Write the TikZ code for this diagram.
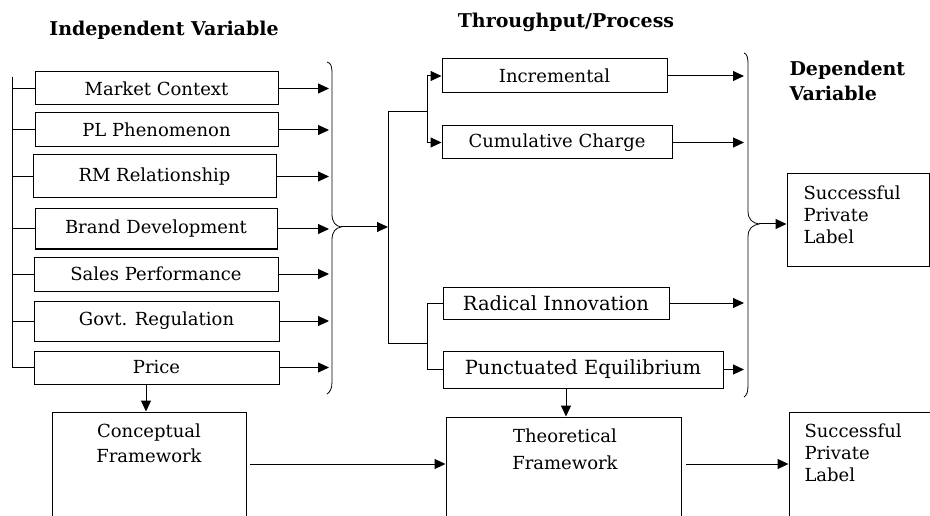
\documentclass[tikz,border=0pt]{standalone}
\usepackage{fontspec}
\setmainfont{DejaVu Serif}
\usetikzlibrary{arrows.meta}
\begin{document}
\begin{tikzpicture}[x=1pt,y=-1pt,
  line width=1pt,
  txt/.style={font=\fontsize{18}{22}\selectfont, inner sep=0pt},
  box/.style={draw, txt},
  big/.style={font=\fontsize{19.5}{22}\selectfont},
  hd/.style={font=\fontsize{19}{25}\selectfont\bfseries, inner sep=0pt},
  arr/.style={-{Triangle[length=11pt,width=10pt]}},
  brace/.style={line width=0.8pt}
]
\clip (0,0) rectangle (930,516);
% titles
\node[hd] (t1) at (164,30.5) {Independent Variable};
\node[hd] (t2) at (566,22) {Throughput/Process};
\node[hd, anchor=north west, align=left] (t3) at (789,61) {Dependent\\Variable};
% independent variables
\node[box, minimum width=243, minimum height=33] (mc) at (156.5,88.5) {Market Context};
\node[box, minimum width=243, minimum height=34] (pl) at (156.5,130) {PL Phenomenon};
\node[box, minimum width=243, minimum height=43] (rm) at (154.5,176.5) {RM Relationship};
\node[box, minimum width=242, minimum height=40] (bd) at (156,229) {Brand Development};
\node[box, minimum width=244, minimum height=34] (sp) at (156,274) {Sales Performance};
\node[box, minimum width=245, minimum height=40] (gr) at (156.5,321) {Govt. Regulation};
\node[box, minimum width=245, minimum height=33] (pr) at (156.5,367.5) {Price};
% left bus
\coordinate (ltop) at (12,77);
\draw (ltop) -- (ltop |- pr.west);
\foreach \n in {mc,pl,rm,bd,sp,gr,pr} \draw (ltop |- \n.west) -- (\n.west);
% arrows into brace 1
\coordinate (b1) at (329,0);
\foreach \n in {mc,pl,rm,bd,sp,gr,pr} \draw[arr] (\n.east) -- (\n.east -| b1);
% brace 1
\draw[brace] (327,62) .. controls (331,63) and (332,66) .. (332,74) -- (332,214)
  .. controls (332,223) and (336,226) .. (341,227)
  .. controls (336,228) and (332,231) .. (332,240) -- (332,382)
  .. controls (332,389) and (330,392) .. (327,394);
\coordinate (tip1) at (341,227);
\coordinate (v1) at (388,227);
\draw[arr] (tip1) -- (v1);
% process boxes
\node[box, minimum width=225, minimum height=34] (inc) at (554.5,76) {Incremental};
\node[box, minimum width=230, minimum height=33] (cum) at (557,142.5) {Cumulative Charge};
\node[box, big, minimum width=226, minimum height=32] (rad) at (556,303) {Radical Innovation};
\node[box, big, minimum width=280, minimum height=37] (pun) at (583,369.5) {Punctuated Equilibrium};
% tree
\coordinate (vtop) at (388,112);
\coordinate (vbot) at (388,343);
\coordinate (ub) at (427,112);
\coordinate (lb) at (427,343);
\draw (vtop) -- (vbot);
\draw (vtop) -- (ub);
\draw (vbot) -- (lb);
\draw (inc.west -| ub) -- (cum.west -| ub);
\draw[arr] (inc.west -| ub) -- (inc.west);
\draw[arr] (cum.west -| ub) -- (cum.west);
\draw (rad.west -| lb) -- (pun.west -| lb);
\draw (rad.west -| lb) -- (rad.west);
\draw (pun.west -| lb) -- (pun.west);
% arrows into brace 2
\coordinate (b2) at (744,0);
\foreach \n in {inc,cum,rad,pun} \draw[arr] (\n.east) -- (\n.east -| b2);
% brace 2
\draw[brace] (744,53) .. controls (747,54) and (748,57) .. (748,65) -- (748,211)
  .. controls (748,220) and (753,223) .. (759,224)
  .. controls (753,225) and (748,228) .. (748,237) -- (748,385)
  .. controls (748,392) and (747,395) .. (744,397);
\coordinate (tip2) at (759,224);
% dependent variable
\node[draw, minimum width=142, minimum height=92] (spl) at (858,220) {};
\node[txt, anchor=north west, align=left] (spltxt) at (803,185) {Successful\\Private\\Label};
\draw[arr] (tip2) -- (tip2 -| spl.west);
% bottom row
\node[draw, minimum width=194, minimum height=130] (conc) at (149,477) {};
\node[txt, anchor=north, align=center, font=\fontsize{18}{25}\selectfont] (conctxt) at (149,423.5) {Conceptual\\Framework};
\node[draw, minimum width=235, minimum height=130] (theo) at (563.5,482) {};
\node[txt, anchor=north, align=center, font=\fontsize{18}{27}\selectfont] (theotxt) at (565,428.5) {Theoretical\\Framework};
\node[draw, minimum width=151, minimum height=130] (spl2) at (864.5,477) {};
\node[txt, anchor=north west, align=left] (spl2txt) at (804,423) {Successful\\Private\\Label};
\coordinate (pa) at (146,0);
\draw[arr] (pr.south -| pa) -- (conc.north -| pa);
\coordinate (pb) at (566,0);
\draw[arr] (pun.south -| pb) -- (theo.north -| pb);
\coordinate (h1) at (250,464);
\draw[arr] (h1) -- (h1 -| theo.west);
\coordinate (h2) at (686,464);
\draw[arr] (h2) -- (h2 -| spl2.west);
\end{tikzpicture}
\end{document}
